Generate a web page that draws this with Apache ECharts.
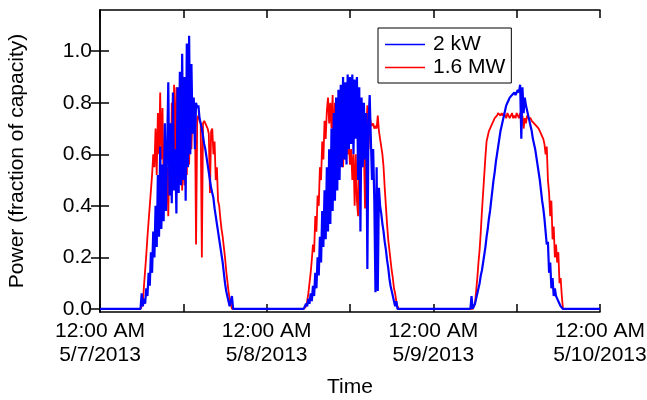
<!DOCTYPE html>
<html>
<head>
<meta charset="utf-8">
<script src="https://cdn.jsdelivr.net/npm/echarts@6/dist/echarts.min.js"></script>
<style>
  html, body { margin: 0; padding: 0; background: #fff; }
  #chart { width: 647px; height: 400px; }
</style>
</head>
<body>
<div id="chart"></div>
<script>
// Logged output, fraction of rated capacity, sampled every 10 minutes.
// Hours are counted from 12:00 AM 5/7/2013.
const STEP_HOURS = 1 / 6;
const dayStartHours = [5.5, 29, 53];

// 2 kW system
const kw2Day1 = [0,0,0,0.06,0.01,0.04,0.02,0.08,0.05,0.14,0.09,0.22,0.14,0.3,0.2,0.4,0.24,0.52,0.28,0.63,
  0.31,0.56,0.34,0.72,0.38,0.62,0.88,0.44,0.72,0.41,0.84,0.46,0.62,0.37,0.86,0.45,0.92,0.48,0.99,0.5,
  0.9,0.42,1.03,0.55,1.06,0.6,0.95,0.68,0.82,0.62,0.8,0.78,0.79,0.74,0.72,0.7,0.67,0.64,0.62,0.59,
  0.56,0.53,0.5,0.47,0.45,0.43,0.39,0.36,0.33,0.3,0.27,0.24,0.21,0.18,0.14,0.1,0.07,0.05,0.03,0.01,
  0.01,0.05,0];
const kw2Day2 = [0,0,0,0,0.02,0.01,0.04,0.02,0.06,0.03,0.09,0.05,0.14,0.08,0.2,0.13,0.28,0.18,0.38,0.24,
  0.46,0.27,0.55,0.3,0.62,0.33,0.7,0.38,0.76,0.42,0.82,0.46,0.85,0.5,0.87,0.55,0.9,0.58,0.88,0.56,
  0.91,0.62,0.9,0.64,0.91,0.6,0.89,0.66,0.9,0.5,0.86,0.3,0.82,0.55,0.8,0.58,0.76,0.155,0.72,0.83,
  0.66,0.5,0.62,0.42,0.065,0.55,0.07,0.47,0.4,0.37,0.33,0.3,0.26,0.23,0.19,0.16,0.12,0.09,0.07,0.05,
  0.03,0.01,0.03,0,0];
const kw2Day3 = [0,0,0,0.05,0,0.01,0.02,0.04,0.06,0.08,0.1,0.13,0.15,0.18,0.21,0.24,0.28,0.31,0.35,0.38,
  0.42,0.46,0.5,0.53,0.57,0.6,0.63,0.66,0.69,0.71,0.73,0.75,0.77,0.79,0.8,0.81,0.82,0.82,0.83,0.83,
  0.84,0.83,0.84,0.85,0.84,0.87,0.66,0.86,0.76,0.82,0.79,0.77,0.75,0.73,0.71,0.69,0.66,0.64,0.62,0.59,
  0.56,0.53,0.5,0.46,0.42,0.39,0.35,0.3,0.25,0.26,0.14,0.18,0.08,0.12,0.05,0.08,0.05,0.04,0.03,0.02,
  0.01,0.01,0,0,0];

// 1.6 MW plant
const mw16Day1 = [0,0,0,0,0.02,0.09,0.15,0.21,0.28,0.34,0.4,0.46,0.52,0.6,0.55,0.7,0.52,0.76,0.6,0.84,
  0.58,0.78,0.48,0.64,0.42,0.55,0.36,0.62,0.48,0.8,0.52,0.87,0.55,0.86,0.46,0.84,0.5,0.62,0.46,0.66,
  0.48,0.72,0.52,0.76,0.56,0.8,0.62,0.78,0.76,0.78,0.25,0.74,0.75,0.73,0.72,0.2,0.72,0.73,0.72,0.71,
  0.7,0.68,0.45,0.69,0.7,0.6,0.65,0.5,0.55,0.42,0.4,0.35,0.31,0.28,0.24,0.2,0.15,0.11,0.07,0.04,
  0.02,0,0];
const mw16Day2 = [0,0,0,0,0.01,0.03,0.06,0.1,0.14,0.19,0.25,0.22,0.36,0.3,0.44,0.4,0.55,0.5,0.65,0.58,
  0.73,0.66,0.77,0.82,0.72,0.8,0.7,0.83,0.6,0.8,0.64,0.78,0.6,0.75,0.56,0.72,0.55,0.7,0.58,0.66,
  0.6,0.64,0.56,0.62,0.5,0.6,0.4,0.6,0.42,0.36,0.6,0.72,0.55,0.75,0.62,0.39,0.7,0.79,0.62,0.75,
  0.72,0.71,0.72,0.7,0.71,0.7,0.75,0.69,0.66,0.63,0.6,0.55,0.47,0.4,0.33,0.27,0.23,0.19,0.15,0.12,
  0.08,0.06,0.03,0.01,0];
const mw16Day3 = [0,0,0,0,0,0,0.02,0.07,0.12,0.18,0.23,0.3,0.38,0.45,0.52,0.59,0.65,0.67,0.69,0.7,
  0.71,0.72,0.73,0.74,0.74,0.75,0.76,0.76,0.75,0.76,0.75,0.76,0.75,0.74,0.76,0.75,0.74,0.75,0.76,0.74,
  0.75,0.74,0.76,0.75,0.74,0.76,0.73,0.75,0.7,0.74,0.72,0.75,0.74,0.74,0.74,0.73,0.73,0.72,0.72,0.71,
  0.71,0.7,0.69,0.68,0.67,0.66,0.64,0.6,0.63,0.5,0.45,0.36,0.42,0.27,0.32,0.2,0.25,0.18,0.22,0.1,
  0.12,0.05,0,0,0];

const seriesNames = ['2 kW', '1.6 MW'];
const dayLabels = ['5/7/2013', '5/8/2013', '5/9/2013', '5/10/2013'];
const yTickValues = [0, 0.2, 0.4, 0.6, 0.8, 1.0];

// Turn the per-day sample lists into [hour, value] pairs, with the
// overnight stretches sitting at zero.
function buildSeries(days) {
  const pts = [[0, 0]];
  days.forEach((vals, d) => {
    vals.forEach((v, i) => pts.push([dayStartHours[d] + i * STEP_HOURS, v]));
  });
  pts.push([72, 0]);
  return pts;
}

const kw2Data = buildSeries([kw2Day1, kw2Day2, kw2Day3]);
const mw16Data = buildSeries([mw16Day1, mw16Day2, mw16Day3]);

const FONT = 'Liberation Sans, Arial, Helvetica, sans-serif';
const FONT_SIZE = 21;
const black = '#000';

const chart = echarts.init(document.getElementById('chart'), null, { renderer: 'canvas' });

const xCommon = {
  type: 'value', min: 0, max: 72, interval: 12,
  axisLine: { show: true, onZero: false, lineStyle: { color: black, width: 1.5 } },
  axisTick: { show: true, inside: true, length: 8, lineStyle: { color: black, width: 1.5 } },
  splitLine: { show: false }
};
const yCommon = {
  type: 'value', min: -0.012, max: 1.16,
  axisLine: { show: true, lineStyle: { color: black, width: 1.5 } },
  axisTick: { show: true, inside: true, length: 9, customValues: yTickValues,
              lineStyle: { color: black, width: 1.5 } },
  splitLine: { show: false }
};

chart.setOption({
  animation: false,
  backgroundColor: '#fff',
  textStyle: { fontFamily: FONT },
  grid: { left: 100, right: 47, top: 10, bottom: 88, containLabel: false, outerBoundsMode: 'none' },
  legend: {
    data: seriesNames,
    orient: 'vertical',
    left: 378, top: 28,
    padding: [6, 6, 5, 7],
    itemGap: 2,
    itemWidth: 40, itemHeight: 1.5,
    icon: 'rect',
    borderColor: black, borderWidth: 1,
    textStyle: { fontFamily: FONT, fontSize: FONT_SIZE, color: black, lineHeight: 21, padding: [0, 0, 0, 3] }
  },
  xAxis: [
    Object.assign({}, xCommon, {
      position: 'bottom',
      name: 'Time', nameLocation: 'middle', nameGap: 65,
      nameTextStyle: { fontFamily: FONT, fontSize: FONT_SIZE, color: black },
      axisLabel: {
        show: true, margin: 7, color: black, fontFamily: FONT, fontSize: FONT_SIZE, lineHeight: 24,
        showMinLabel: true, showMaxLabel: true, hideOverlap: false,
        formatter: function (v) {
          if (v % 24 !== 0) return '';
          return '12:00 AM\n' + dayLabels[v / 24];
        }
      }
    }),
    Object.assign({}, xCommon, { position: 'top', axisLabel: { show: false } })
  ],
  yAxis: [
    Object.assign({}, yCommon, {
      position: 'left',
      name: 'Power (fraction of capacity)', nameLocation: 'middle', nameGap: 72,
      nameRotate: 90,
      nameTextStyle: { fontFamily: FONT, fontSize: FONT_SIZE, color: black },
      axisLabel: {
        show: true, margin: 8, color: black, fontFamily: FONT, fontSize: FONT_SIZE,
        customValues: yTickValues,
        formatter: function (v) { return v.toFixed(1); }
      }
    }),
    Object.assign({}, yCommon, { position: 'right', axisLabel: { show: false } })
  ],
  series: [
    {
      name: seriesNames[0], type: 'line', data: kw2Data,
      xAxisIndex: 0, yAxisIndex: 0,
      showSymbol: false, symbol: 'none', z: 4,
      color: '#0000ff',
      itemStyle: { color: '#0000ff' },
      lineStyle: { color: '#0000ff', width: 2.2 }
    },
    {
      name: seriesNames[1], type: 'line', data: mw16Data,
      xAxisIndex: 0, yAxisIndex: 0,
      showSymbol: false, symbol: 'none', z: 3,
      color: '#ff0000',
      itemStyle: { color: '#ff0000' },
      lineStyle: { color: '#ff0000', width: 1.8 }
    }
  ]
});
</script>
</body>
</html>
